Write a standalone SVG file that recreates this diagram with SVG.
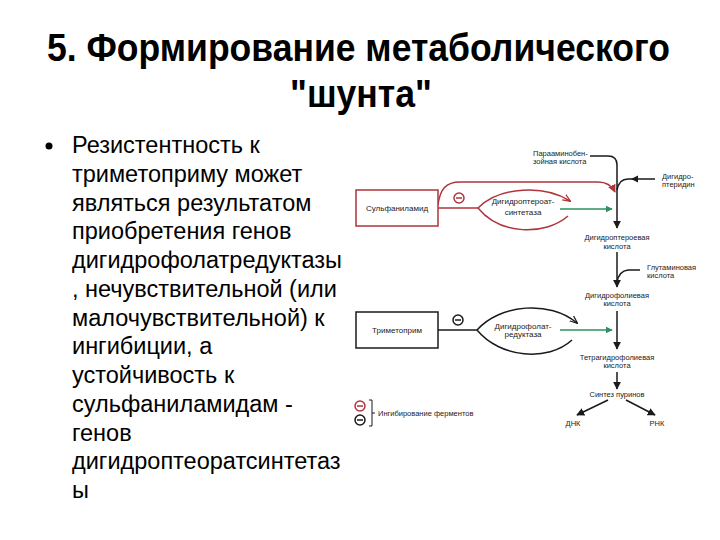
<svg xmlns="http://www.w3.org/2000/svg" width="720" height="540" viewBox="0 0 720 540">
<defs>
<style>
.title{font-family:"Liberation Sans Narrow","Liberation Sans",Arial,sans-serif;font-weight:bold;font-size:38px;fill:#000}
.body{font-family:"Liberation Sans",Arial,sans-serif;font-size:23.5px;fill:#000}
.lbl{font-family:"Liberation Sans",Arial,sans-serif;font-size:7.5px;fill:#222}
.mid{text-anchor:middle}
.box{font-family:"Liberation Sans",Arial,sans-serif;font-size:8px;fill:#222;text-anchor:middle}
.red{stroke:#b0343c;fill:none;stroke-width:1.5}
.blk{stroke:#1a1a1a;fill:none;stroke-width:1.5}
.grn{stroke:#2f8f5f;fill:none;stroke-width:1.3}
</style>
<marker id="ab" viewBox="0 0 10 10" refX="9" refY="5" markerWidth="8" markerHeight="8" markerUnits="userSpaceOnUse" orient="auto"><path d="M0,0 L10,5 L0,10 z" fill="#1a1a1a"/></marker>
<marker id="ar" viewBox="0 0 10 10" refX="9" refY="5" markerWidth="8" markerHeight="8" markerUnits="userSpaceOnUse" orient="auto"><path d="M0,0 L10,5 L0,10 z" fill="#b0343c"/></marker>
<marker id="ag" viewBox="0 0 10 10" refX="9" refY="5" markerWidth="7" markerHeight="7" markerUnits="userSpaceOnUse" orient="auto"><path d="M0,0 L10,5 L0,10 z" fill="#2f8f5f"/></marker>
<marker id="an" viewBox="0 0 10 10" refX="9" refY="5" markerWidth="8" markerHeight="8" markerUnits="userSpaceOnUse" orient="auto"><path d="M0,1 L10,5 L0,9" fill="none" stroke="#1a1a1a" stroke-width="1.5"/></marker>
<marker id="arn" viewBox="0 0 10 10" refX="9" refY="5" markerWidth="8" markerHeight="8" markerUnits="userSpaceOnUse" orient="auto"><path d="M0,1 L10,5 L0,9" fill="none" stroke="#b0343c" stroke-width="1.5"/></marker>
</defs>
<rect width="720" height="540" fill="#fff"/>
<g id="title">
<text class="title" x="47" y="61" textLength="623" lengthAdjust="spacingAndGlyphs">5. Формирование метаболического</text>
<text class="title" x="290" y="107" textLength="142" lengthAdjust="spacingAndGlyphs">"шунта"</text>
</g>
<g id="bullet-text">
<circle cx="49" cy="146" r="3.5" fill="#000"/>
<text class="body" x="72" y="153">Резистентность к</text>
<text class="body" x="72" y="182">триметоприму может</text>
<text class="body" x="72" y="211">являться результатом</text>
<text class="body" x="72" y="239">приобретения генов</text>
<text class="body" x="72" y="268">дигидрофолатредуктазы</text>
<text class="body" x="72" y="297">, нечувствительной (или</text>
<text class="body" x="72" y="326">малочувствительной) к</text>
<text class="body" x="72" y="354">ингибиции, а</text>
<text class="body" x="72" y="383">устойчивость к</text>
<text class="body" x="72" y="412">сульфаниламидам -</text>
<text class="body" x="72" y="441">генов</text>
<text class="body" x="72" y="469">дигидроптеоратсинтетаз</text>
<text class="body" x="72" y="498">ы</text>
</g>
<g id="connectors">
<path class="red" d="M438,205 C440,189 446,182 460,182 L598,182 C607,182 612,186 615,192" marker-end="url(#ar)"/>
<path class="red" d="M438,208 L478,208"/>
<path class="red" d="M478,208 C500,186 545,185 570,201" marker-end="url(#arn)"/>
<path class="red" d="M478,208 C500,235 545,236 568,216"/>
<path class="blk" d="M438,330 L477,330"/>
<path class="blk" d="M477,330 C500,304 550,300 577,323" marker-end="url(#an)"/>
<path class="blk" d="M477,330 C500,358 548,362 572,340"/>
<path class="grn" d="M560,209 L612,209" marker-end="url(#ag)"/>
<path class="grn" d="M560,330 L612,330" marker-end="url(#ag)"/>
<path class="blk" d="M590,156 L608,156 Q617,156 617,165 L617,228" marker-end="url(#ab)"/>
<path class="blk" d="M655,179 L628,179 Q619,179 617,190"/>
<path d="M631,179 L638,175.5 L638,182.5 z" fill="#1a1a1a"/>
<path class="blk" d="M617,252 L617,287" marker-end="url(#ab)"/>
<path class="blk" d="M640,270 L628,270 Q619,271 617,282"/>
<path class="blk" d="M617,311 L617,349" marker-end="url(#ab)"/>
<path class="blk" d="M617,372 L617,389" marker-end="url(#ab)"/>
<path class="blk" d="M608,400 L577,415" marker-end="url(#ab)"/>
<path class="blk" d="M626,400 L655,415" marker-end="url(#ab)"/>
</g>
<g id="sulfanilamide">
<rect x="356" y="190" width="82" height="36" fill="#fff" stroke="#b0343c" stroke-width="1.5"/>
<text class="box" x="397" y="211">Сульфаниламид</text>
</g>
<g id="inhib-red">
<circle cx="459" cy="198" r="5" fill="#fff" stroke="#b0343c" stroke-width="1.5"/>
<line x1="456" y1="198" x2="462" y2="198" stroke="#b0343c" stroke-width="1.5"/>
</g>
<g id="dhps">
<text class="box" x="523" y="204" font-size="7.5">Дигидроптероат-</text>
<text class="box" x="523" y="215" font-size="7.5">синтетаза</text>
</g>
<g id="trimethoprim">
<rect x="356" y="312" width="82" height="36" fill="#fff" stroke="#1a1a1a" stroke-width="1.5"/>
<text class="box" x="397" y="333">Триметоприм</text>
</g>
<g id="inhib-black">
<circle cx="458" cy="320" r="5" fill="#fff" stroke="#1a1a1a" stroke-width="1.5"/>
<line x1="455" y1="320" x2="461" y2="320" stroke="#1a1a1a" stroke-width="1.5"/>
</g>
<g id="dhfr">
<text class="box" x="523" y="328.5" font-size="7.5">Дигидрофолат-</text>
<text class="box" x="523" y="337" font-size="7.5">редуктаза</text>
</g>
<g id="paba">
<text class="lbl" x="533" y="155.5">Парааминобен-</text>
<text class="lbl" x="533" y="163.5">зойная кислота</text>
</g>
<g id="dihydropteridine">
<text class="lbl" x="662" y="178.5">Дигидро-</text>
<text class="lbl" x="662" y="186.5">птеридин</text>
</g>
<g id="dihydropteroic">
<text class="lbl mid" x="617" y="240">Дигидроптероевая</text>
<text class="lbl mid" x="617" y="248.5">кислота</text>
</g>
<g id="glutamic">
<text class="lbl" x="647" y="269.5">Глутаминовая</text>
<text class="lbl" x="647" y="277.5">кислота</text>
</g>
<g id="dihydrofolic">
<text class="lbl mid" x="617" y="297.5">Дигидрофолиевая</text>
<text class="lbl mid" x="617" y="305.5">кислота</text>
</g>
<g id="tetrahydrofolic">
<text class="lbl mid" x="617" y="359.5">Тетрагидрофолиевая</text>
<text class="lbl mid" x="617" y="368">кислота</text>
</g>
<g id="purine">
<text class="lbl mid" x="617" y="396.5">Синтез пуринов</text>
</g>
<g id="dna"><text class="lbl mid" x="573" y="425.5">ДНК</text></g>
<g id="rna"><text class="lbl mid" x="657" y="425.5">РНК</text></g>
<g id="legend">
<circle cx="360" cy="406" r="5" fill="#fff" stroke="#b0343c" stroke-width="1.5"/>
<line x1="357" y1="406" x2="363" y2="406" stroke="#b0343c" stroke-width="1.5"/>
<circle cx="360" cy="420" r="5" fill="#fff" stroke="#1a1a1a" stroke-width="1.5"/>
<line x1="357" y1="420" x2="363" y2="420" stroke="#1a1a1a" stroke-width="1.5"/>
<path d="M369,400 L372,400 L372,426 L369,426 M372,413 L375,413" fill="none" stroke="#1a1a1a" stroke-width="1"/>
<text class="lbl" x="378" y="415.5" font-size="7">Ингибирование ферментов</text>
</g>
</svg>
